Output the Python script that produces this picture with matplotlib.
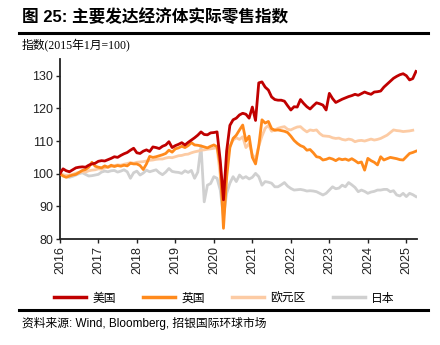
import numpy as np
import matplotlib
matplotlib.use("Agg")
import matplotlib.pyplot as plt
from matplotlib.lines import Line2D

plt.rcParams['font.family'] = ['Liberation Sans', 'Noto Sans CJK SC', 'DejaVu Sans']

# 月度实际零售指数, 2016年1月起
us = [100.0, 101.5, 100.9, 100.6, 101.2, 101.8, 102.0, 102.1, 102.0, 102.6, 103.0, 103.2,
      103.8, 104.0, 103.9, 104.3, 104.7, 105.2, 105.0, 105.6, 106.1, 106.5, 107.2, 107.8,
      106.4, 106.2, 106.9, 107.3, 106.8, 108.2, 108.0, 107.7, 108.4, 108.8, 109.8, 108.0,
      108.6, 109.0, 109.5, 108.8, 109.6, 110.3, 111.0, 111.8, 112.8, 112.0, 111.9, 112.5,
      112.6, 112.8, 104.0, 92.0, 107.0, 114.8, 116.5, 117.0, 118.0, 118.5, 118.2, 117.0,
      120.4, 116.3, 127.8, 128.1, 126.5, 125.6, 123.5, 122.7, 122.5, 122.5, 122.2, 120.8,
      119.5, 120.5, 120.4, 122.7, 121.5, 120.5, 119.8, 120.8, 121.7, 121.4, 121.0, 119.5,
      124.6, 123.0, 121.8, 122.3, 122.8, 123.2, 123.6, 123.9, 124.3, 124.0, 124.5, 125.0,
      124.6, 124.3, 125.0, 125.1, 125.3, 126.5, 127.4, 128.3, 129.2, 129.8, 130.3, 130.6,
      130.0, 128.7, 129.1, 131.3]
uk = [100.0, 99.3, 98.9, 99.3, 99.6, 99.8, 100.4, 101.0, 101.3, 102.0, 103.5, 102.3,
      102.0, 101.8, 102.4, 102.0, 102.6, 102.2, 102.5, 102.3, 102.6, 102.4, 103.2, 103.0,
      103.0, 102.5, 101.3, 103.0, 105.3, 105.0, 105.2, 105.5, 105.8, 106.2, 107.2, 106.6,
      107.6, 107.9, 108.4, 108.0, 108.6, 109.5, 108.8, 108.7, 108.5, 108.2, 107.9, 108.4,
      108.8, 108.3, 102.5, 83.3, 99.0, 108.0, 110.8, 111.8, 113.4, 114.9, 110.0, 111.5,
      105.0, 103.0, 108.5, 116.5, 115.5, 116.0, 113.8, 113.3, 113.4, 113.2, 113.0, 112.6,
      111.5, 110.2, 109.3, 108.6, 108.2, 107.2, 107.4, 106.4, 105.2, 105.0, 104.2, 104.4,
      104.8, 104.5, 104.0, 104.6, 104.3, 104.5, 104.1, 104.6, 104.0, 103.3, 103.6, 101.1,
      104.7, 104.0, 103.5, 102.7, 105.2, 104.2, 104.6, 105.0, 104.8, 104.6, 104.3, 104.2,
      105.2, 106.2, 106.5, 106.9]
ez = [100.0, 99.7, 99.5, 99.6, 99.8, 100.2, 100.4, 100.6, 100.5, 100.9, 101.1, 101.2,
      101.5, 101.4, 101.8, 102.0, 102.2, 102.5, 102.7, 102.6, 102.9, 103.1, 103.4, 103.2,
      103.5, 103.6, 103.7, 103.9, 104.1, 104.2, 104.4, 104.5, 104.5, 104.8, 105.0, 104.9,
      105.2, 105.5, 105.6, 105.9, 106.0, 106.4, 106.7, 106.9, 107.2, 107.3, 107.5, 107.6,
      107.8, 107.9, 99.5, 88.5, 104.0, 108.5, 110.3, 111.0, 110.5, 111.3, 108.0, 109.3,
      105.8, 104.5, 108.5, 111.5, 113.9, 114.8, 113.0, 113.4, 113.9, 114.2, 114.4, 113.6,
      113.4, 113.9, 114.3, 114.4, 113.5, 112.8, 113.4, 113.2, 113.4, 112.3, 111.6, 111.5,
      111.4, 111.0, 110.8, 110.9, 110.5, 110.3, 110.6, 110.4, 109.8, 110.1, 110.2, 110.0,
      110.3, 110.6, 110.3, 110.5, 110.8, 111.3, 111.8, 112.6, 113.4, 113.2, 113.1, 112.9,
      113.0, 113.1, 113.3]
jp = [100.0, 99.6, 99.1, 98.9, 99.2, 99.6, 100.0, 100.3, 99.8, 99.3, 99.4, 99.6,
      99.8, 100.5, 100.8, 100.6, 100.9, 101.0, 100.5, 100.8, 101.2, 100.6, 98.6, 100.3,
      100.8, 99.6, 100.2, 101.1, 100.6, 100.9, 101.2, 100.3, 99.7, 100.5, 101.6, 100.7,
      100.5, 100.4, 100.1, 100.9, 100.4, 101.0, 98.6, 100.5, 108.5, 91.4, 96.5, 97.0,
      99.1, 98.6, 95.0, 86.9, 94.0, 97.1, 99.1, 97.6, 99.6, 98.6, 99.1, 98.4,
      98.9, 100.1, 99.1, 96.5, 97.6, 97.4, 97.1, 96.0, 96.0, 96.6, 97.3, 96.2,
      95.5, 95.0, 95.1, 95.2, 95.0, 94.7, 94.8, 94.7, 94.5, 94.0, 93.5, 94.0,
      95.0, 96.0, 95.4, 95.6, 96.5, 96.0, 97.3, 96.6, 95.8, 94.5, 95.0, 94.6,
      94.0, 94.4, 94.6, 95.0, 95.0, 95.2, 95.2, 94.5, 94.8, 93.5, 93.2, 94.0,
      93.0, 94.0, 93.6, 93.0]

names = ['美国', '英国', '欧元区', '日本']
colors = ['#C00000', '#FF8A1C', '#FCCBA4', '#D0D0D0']
years = list(range(2016, 2026))

fig = plt.figure(figsize=(4.4, 3.45), dpi=100)
ax = fig.add_axes([0.136, 0.307, 0.812, 0.521])

# 由后往前画, 美国在最上层
for vals, c, z in zip([jp, ez, uk, us], colors[::-1], [1, 2, 3, 4]):
    x = 2016 + np.arange(len(vals)) / 12
    ax.plot(x, vals, color=c, lw=2.0, zorder=z, solid_joinstyle='round')

ax.set_xlim(2016, 2025.28)
ax.set_ylim(80, 135)
ax.set_yticks([80, 90, 100, 110, 120, 130])
ax.set_xticks(years)
ax.set_xticklabels([str(y) for y in years], rotation=90)
ax.tick_params(labelsize=9, length=3, width=1, colors='#222222', pad=2)
for s in ['top', 'right']:
    ax.spines[s].set_visible(False)
for s in ['left', 'bottom']:
    ax.spines[s].set_linewidth(1.3)
    ax.spines[s].set_color('#222222')

handles = [Line2D([0], [0], color=c, lw=2.5) for c in colors]
fig.legend(handles, names, loc='center', bbox_to_anchor=(0.51, 0.136), ncol=4,
           frameon=False, handlelength=2.7, handletextpad=0.55,
           columnspacing=2.3, prop={'family': ['Noto Sans CJK SC'], 'size': 8.5})

fig.text(0.05, 0.953, '图 25: 主要发达经济体实际零售指数', fontsize=12, fontweight='bold',
         va='center', ha='left')
fig.text(0.05, 0.868, '指数(2015年1月=100)', fontsize=8.5, va='center', ha='left',
         family=['Liberation Serif', 'Noto Sans CJK SC'])
fig.text(0.05, 0.063, '资料来源: Wind, Bloomberg, 招银国际环球市场', fontsize=8.5,
         va='center', ha='left')

fig.add_artist(Line2D([0.043, 0.973], [0.904, 0.904], color='black', lw=2.2))
fig.add_artist(Line2D([0.043, 0.973], [0.101, 0.101], color='black', lw=2.2))

fig.savefig('out.png', dpi=100)
